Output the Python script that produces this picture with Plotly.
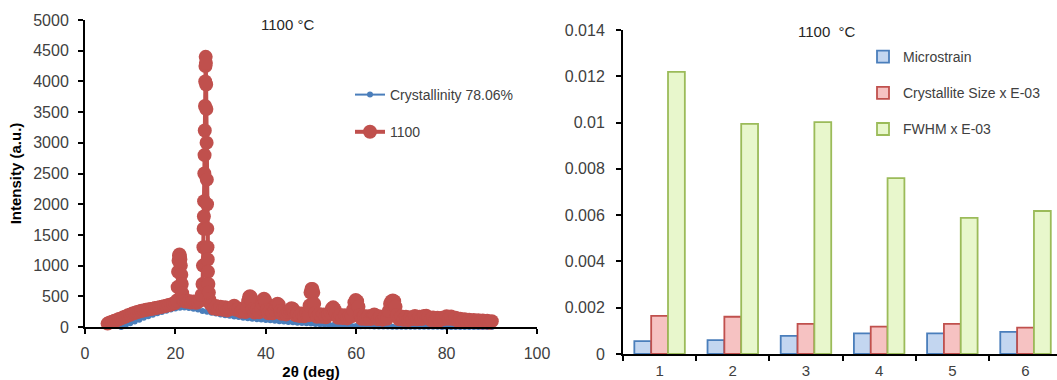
import plotly.graph_objects as go

# ---------------- XRD pattern (left panel) ----------------
xrd_2theta = [
    5.0, 5.5, 6.0, 6.5, 7.0, 7.5, 8.0, 8.5, 9.0, 9.5, 10.0, 10.5, 11.0, 11.5, 12.0, 12.5,
    13.0, 13.5, 14.0, 14.5, 15.0, 15.5, 16.0, 16.5, 17.0, 17.5, 18.0, 18.5, 19.0, 19.5,
    20.0, 20.3, 20.5, 20.6, 20.7, 20.8, 20.9, 21.0, 21.1, 21.2, 21.3, 21.4, 21.5, 21.7,
    22.0, 22.5, 23.0, 23.5, 24.0, 24.5, 25.0, 25.5, 25.8, 26.0, 26.1, 26.2, 26.25, 26.3,
    26.35, 26.4, 26.45, 26.5, 26.55, 26.6, 26.65, 26.7, 26.75, 26.8, 26.85, 26.9, 26.95,
    27.0, 27.05, 27.1, 27.15, 27.2, 27.3, 27.4, 27.5, 27.7,
    28.0, 28.5, 29.0, 29.5, 30.0, 30.5, 31.0, 31.5, 32.0, 32.5, 33.0, 33.5, 34.0, 34.5,
    35.0, 35.5, 35.9, 36.1, 36.3, 36.5, 36.7, 36.9, 37.1, 37.5, 38.0, 38.5,
    39.0, 39.2, 39.4, 39.6, 39.8, 40.0, 40.3, 40.6, 41.0, 41.5,
    42.0, 42.3, 42.6, 42.9, 43.2, 43.5, 44.0, 44.5,
    45.0, 45.4, 45.7, 46.0, 46.3, 46.7, 47.0, 47.5, 48.0, 48.5, 49.0, 49.5,
    49.7, 49.9, 50.1, 50.3, 50.5, 50.7, 50.9, 51.3, 51.8, 52.3, 52.8, 53.3, 53.8,
    54.3, 54.6, 54.9, 55.2, 55.5, 56.0, 56.5, 57.0, 57.5, 58.0, 58.5, 59.0,
    59.3, 59.6, 59.9, 60.2, 60.5, 60.8, 61.2, 61.7, 62.2, 62.7, 63.2, 63.7,
    64.0, 64.3, 64.8, 65.3, 65.8, 66.3, 66.8,
    67.2, 67.5, 67.8, 68.1, 68.4, 68.7, 69.0, 69.5,
    70.0, 70.5, 71.0, 71.5, 72.0, 72.5, 73.0, 73.5, 74.0, 74.5,
    75.0, 75.5, 76.0, 76.5, 77.0, 77.5, 78.0, 78.5, 79.0, 79.5,
    80.0, 80.5, 81.0, 81.5, 82.0, 82.5, 83.0, 83.5, 84.0, 84.5,
    85.0, 85.5, 86.0, 86.5, 87.0, 87.5, 88.0, 88.5, 89.0, 89.5, 90.0]
xrd_1100 = [
    55, 75, 85, 100, 110, 130, 140, 160, 170, 190, 200, 220, 228, 245, 252, 265,
    270, 282, 285, 295, 298, 308, 312, 322, 328, 338, 345, 358, 366, 380,
    392, 430, 650, 900, 1080, 1160, 1180, 1150, 1100, 1000, 850, 700, 550, 440,
    420, 410, 425, 400, 415, 395, 405, 430, 520, 700, 1000, 1300, 1600, 1800,
    2050, 2500, 2800, 3200, 3600, 4000, 4250, 4400, 4300, 3950, 3550, 3000, 2400,
    2000, 1600, 1300, 1100, 900, 700, 560, 450, 380,
    360, 300, 340, 290, 330, 280, 320, 270, 310, 300, 345, 280, 300, 250,
    290, 245, 320, 420, 490, 500, 480, 400, 290, 235, 280, 240,
    300, 380, 440, 460, 440, 400, 280, 225, 270, 225,
    280, 360, 380, 360, 260, 215, 250, 205,
    245, 275, 305, 295, 235, 190, 230, 180, 220, 175, 215, 190,
    350, 560, 620, 620, 560, 380, 225, 165, 210, 165, 205, 160, 200,
    235, 300, 320, 290, 215, 150, 195, 145, 190, 140, 185, 175,
    280, 400, 440, 420, 330, 195, 135, 180, 130, 175, 130, 185,
    205, 188, 125, 170, 120, 165, 135,
    260, 380, 420, 430, 420, 330, 195, 125,
    170, 118, 165, 115, 160, 130, 178, 125, 165, 130,
    180, 182, 160, 115, 155, 110, 150, 108, 150, 130,
    175, 135, 172, 130, 150, 100, 135, 90, 125, 85,
    118, 80, 112, 78, 108, 75, 105, 72, 102, 70, 95]
assert len(xrd_2theta) == len(xrd_1100)

amorph_2theta = [8, 9, 10, 11, 12, 13, 14, 15, 16, 17, 18, 19, 20, 21, 22, 23, 24, 25, 26, 27,
                 28, 29, 30, 31, 32, 33, 34, 35, 36, 37, 38, 39, 40, 41, 42, 43, 44, 45, 46, 47,
                 48, 49, 50, 51, 52, 53, 54, 55, 56, 57, 58, 59, 60, 61, 62, 63, 64, 65, 66, 67,
                 68, 69, 70, 71, 72, 73, 74, 75, 76, 77, 78, 79, 80, 81, 82, 83, 84, 85, 86, 87,
                 88, 89, 90]
amorph_int = [0, 30, 60, 90, 120, 150, 175, 200, 222, 245, 265, 285, 300, 312, 318, 310, 298, 285, 262, 247,
              232, 218, 205, 193, 182, 172, 162, 152, 143, 135, 128, 121, 115, 108, 100, 94, 88, 82, 76, 70,
              65, 60, 55, 50, 45, 40, 35, 32, 28, 24, 21, 18, 16, 14, 12, 11, 10, 9, 8, 7,
              6, 5, 5, 4, 4, 4, 3, 3, 3, 3, 3, 2, 2, 2, 2, 2, 2, 1, 1, 1,
              1, 1, 1]
assert len(amorph_2theta) == len(amorph_int)

# ---------------- Bar data (right panel) ----------------
categories = ["1", "2", "3", "4", "5", "6"]
microstrain = [0.00056, 0.00060, 0.00078, 0.00089, 0.00089, 0.00096]
cryst_size = [0.00165, 0.00161, 0.00130, 0.00118, 0.00130, 0.00114]
fwhm = [0.01219, 0.00994, 0.01002, 0.00760, 0.00588, 0.00618]

FONT = "Liberation Sans, Arial, sans-serif"
W, H = 1057, 380

fig = go.Figure()

fig.add_trace(go.Scatter(
    x=amorph_2theta, y=amorph_int, mode="lines+markers", name="Crystallinity 78.06%",
    line=dict(color="#4a7ebb", width=2), marker=dict(color="#4a7ebb", size=6),
    xaxis="x", yaxis="y", legend="legend2", legendgroup="a", cliponaxis=False))
fig.add_trace(go.Scatter(
    x=xrd_2theta, y=xrd_1100, mode="lines+markers", name="1100",
    line=dict(color="#c0504d", width=4), marker=dict(color="#c0504d", size=14),
    xaxis="x", yaxis="y", legend="legend2", legendgroup="b", cliponaxis=False))

bar_specs = [
    ("Microstrain", microstrain, "#c3d6f0", "#4a7ebb"),
    ("Crystallite Size x E-03", cryst_size, "#f6c2c2", "#c0504d"),
    ("FWHM x E-03", fwhm, "#e8f7cc", "#9bbb59"),
]
for i, (nm, vals, fill, edge) in enumerate(bar_specs):
    fig.add_trace(go.Bar(
        x=categories, y=vals, name=nm, marker=dict(color=fill, line=dict(color=edge, width=1.8)),
        xaxis="x2", yaxis="y2", legend="legend", legendgroup="g%d" % i))


def px_x(p):
    return p / W


def px_y(p):
    return (H - p) / H


axis_common = dict(showgrid=False, zeroline=False, showline=True, linecolor="black", linewidth=2,
                   ticks="outside", tickcolor="black", tickwidth=2, ticklen=5, automargin=False,
                   tickfont=dict(family=FONT, size=16, color="#404040"))

fig.update_layout(
    width=W, height=H, margin=dict(l=0, r=0, t=0, b=0, autoexpand=False),
    paper_bgcolor="white", plot_bgcolor="white",
    font=dict(family=FONT, color="#404040"),
    barmode="group", bargap=0.31, bargroupgap=0,
    xaxis=dict(domain=[px_x(85), px_x(537)], range=[0, 100], dtick=20, anchor="y",
               title=dict(text="<b>2θ (deg)</b>", font=dict(family=FONT, size=15, color="black"), standoff=9),
               ticklabelstandoff=6, **axis_common),
    yaxis=dict(domain=[px_y(327), px_y(20)], range=[0, 5000], dtick=500, anchor="x",
               title=dict(text="<b>Intensity (a.u.)</b>", font=dict(family=FONT, size=15, color="black"), standoff=8),
               ticklabelstandoff=6, **axis_common),
    xaxis2=dict(domain=[px_x(623), 1.0], type="category", range=[-0.5, 5.43], anchor="y2",
                tickson="boundaries", ticklabelstandoff=2,
                **{**axis_common, "tickfont": dict(family=FONT, size=15, color="#404040")}),
    yaxis2=dict(domain=[px_y(354), px_y(30)], range=[0, 0.014], dtick=0.002, anchor="x2",
                ticklabelstandoff=8, **axis_common),
    legend=dict(x=px_x(863), y=px_y(41), xanchor="left", yanchor="top", bgcolor="rgba(0,0,0,0)",
                traceorder="grouped", tracegroupgap=15,
                font=dict(family=FONT, size=14, color="#404040")),
    legend2=dict(x=px_x(350), y=px_y(79), xanchor="left", yanchor="top", bgcolor="rgba(0,0,0,0)",
                 traceorder="grouped", tracegroupgap=16,
                 font=dict(family=FONT, size=14, color="#404040")),
    annotations=[
        dict(text="1100 °C", x=px_x(287), y=px_y(25), xref="paper", yref="paper", showarrow=False,
             xanchor="center", yanchor="middle", font=dict(family=FONT, size=15, color="#262626")),
        dict(text="1100 \u00a0°C", x=px_x(827), y=px_y(31), xref="paper", yref="paper", showarrow=False,
             xanchor="center", yanchor="middle", font=dict(family=FONT, size=15, color="#262626")),
    ],
)

fig.write_html("out.html")
